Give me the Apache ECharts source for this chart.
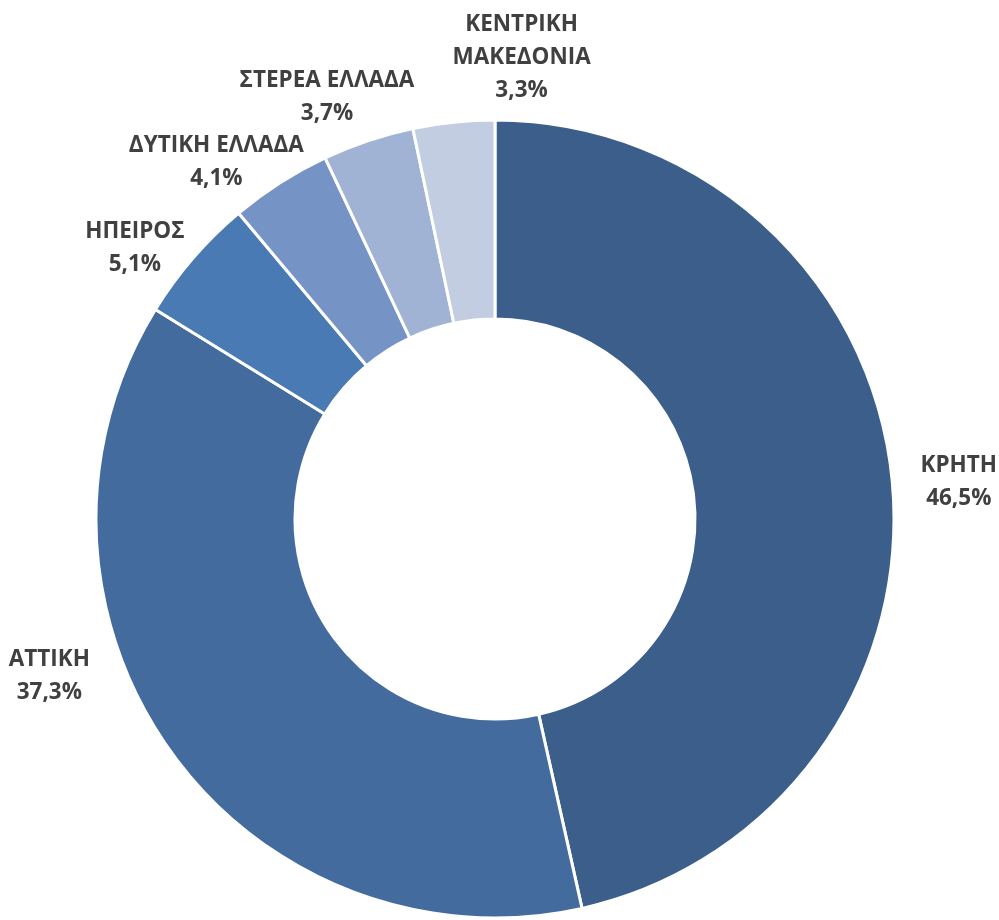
<!DOCTYPE html>
<html>
<head>
<meta charset="utf-8">
<script src="https://cdn.jsdelivr.net/npm/echarts@6/dist/echarts.min.js"></script>
<style>
html,body{margin:0;padding:0;background:#fff;}
#chart{width:999px;height:920px;}
</style>
</head>
<body>
<div id="chart"></div>
<script>
// ---- data ----
const regions = ['ΚΡΗΤΗ', 'ΑΤΤΙΚΗ', 'ΗΠΕΙΡΟΣ', 'ΔΥΤΙΚΗ ΕΛΛΑΔΑ', 'ΣΤΕΡΕΑ ΕΛΛΑΔΑ', 'ΚΕΝΤΡΙΚΗ\nΜΑΚΕΔΟΝΙΑ'];
const shares = [46.5, 37.3, 5.1, 4.1, 3.7, 3.3];

// ---- style / layout ----
const colors = ['#3b5e8a', '#436b9e', '#4a7ab4', '#7594c5', '#a1b3d5', '#c2cde2'];
const CX = 495, CY = 519, R_IN = 200, R_OUT = 399;
const FONT_SIZE = 22.5, LINE_H = 33, FONT = 'bold 22.5px "Open Sans"';
// label placement tweaks (angle shift in degrees, gap beyond outer radius in px), as hand-placed in the original
const labelNudge = [[-1.7, 28], [-15.7, 34], [2.9, 8], [2.2, 2], [1.0, 16], [-9.1, 14]];

const fmt = (name, v) => name + '\n' + v.toFixed(1).replace('.', ',') + '%';
const ctx = document.createElement('canvas').getContext('2d');
ctx.font = FONT;
function textBox(s) {
  const lines = s.split('\n');
  return {w: Math.max(...lines.map(l => ctx.measureText(l).width)), h: lines.length * LINE_H};
}
const total = shares.reduce((a, b) => a + b, 0);
const midAngles = [];
{
  let acc = 0;
  shares.forEach(v => { midAngles.push(90 - (acc + v / 2) / total * 360); acc += v; });
}

const chart = echarts.init(document.getElementById('chart'), null, {renderer: 'canvas'});
chart.setOption({
  animation: false,
  series: [{
    type: 'pie',
    center: [CX, CY],
    radius: [R_IN, R_OUT],
    startAngle: 90,
    clockwise: true,
    avoidLabelOverlap: false,
    data: regions.map((n, i) => ({name: n, value: shares[i], itemStyle: {color: colors[i]}})),
    itemStyle: {borderColor: '#ffffff', borderWidth: 3},
    label: {
      show: true,
      position: 'outside',
      formatter: p => fmt(p.name, p.value),
      fontFamily: 'Open Sans',
      fontWeight: 'bold',
      fontSize: FONT_SIZE,
      lineHeight: LINE_H,
      width: 240,
      overflow: 'none',
      color: '#404040'
    },
    labelLine: {show: false, length: 10, length2: 0},
    labelLayout: p => {
      const i = p.dataIndex;
      const a = (midAngles[i] + labelNudge[i][0]) * Math.PI / 180;
      const r = R_OUT + labelNudge[i][1];
      const box = textBox(fmt(regions[i], shares[i]));
      const c = Math.cos(a), s = Math.sin(a);
      return {
        x: CX + r * c + c * box.w / 2,
        y: CY - r * s - s * box.h / 2,
        align: 'center',
        verticalAlign: 'middle'
      };
    },
    emphasis: {disabled: true}
  }]
});
</script>
</body>
</html>
